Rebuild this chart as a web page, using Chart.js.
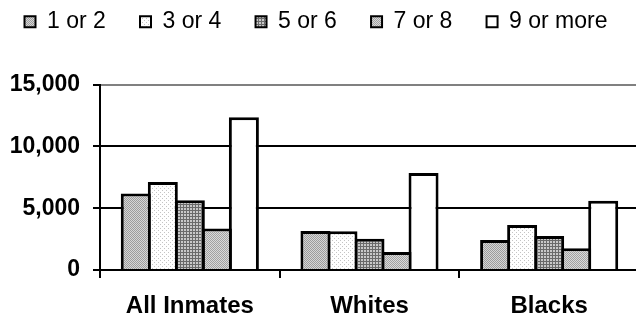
<!DOCTYPE html>
<html>
<head>
<meta charset="utf-8">
<script src="https://cdn.jsdelivr.net/npm/chart.js@4.4.0/dist/chart.umd.min.js"></script>
<style>
  html, body { margin: 0; padding: 0; background: #fff; overflow: hidden; }
  #wrap { width: 640px; height: 321px; }
</style>
</head>
<body>
<div id="wrap"><canvas id="chart" width="640" height="321"></canvas></div>
<script>
// data
const groups = ['All Inmates', 'Whites', 'Blacks'];
const seriesNames = ['1 or 2', '3 or 4', '5 or 6', '7 or 8', '9 or more'];
const oneOrTwo = [6180, 3150, 2420];
const threeOrFour = [7120, 3140, 3630];
const fiveOrSix = [5650, 2530, 2740];
const sevenOrEight = [3360, 1450, 1750];
const nineOrMore = [12360, 7850, 5590];
const yTicks = [0, 5000, 10000, 15000];

// small fill patterns like the old office hatches
function makePattern(size, draw) {
    const c = document.createElement('canvas');
    c.width = size;
    c.height = size;
    const g = c.getContext('2d');
    draw(g);
    return g.createPattern(c, 'repeat');
}
const ctx = document.getElementById('chart').getContext('2d');

const pat1 = makePattern(2, g => {
    g.fillStyle = '#d6d6d6'; g.fillRect(0, 0, 2, 2);
    g.fillStyle = '#9c9c9c'; g.fillRect(0, 0, 1, 1); g.fillRect(1, 1, 1, 1);
});
const pat2 = makePattern(4, g => {
    g.fillStyle = '#ffffff'; g.fillRect(0, 0, 4, 4);
    g.fillStyle = '#c4c4c4'; g.fillRect(0, 0, 1, 1); g.fillRect(2, 2, 1, 1);
});
const pat3 = makePattern(3, g => {
    g.fillStyle = '#c8c8c8'; g.fillRect(0, 0, 3, 3);
    g.fillStyle = '#6a6a6a'; g.fillRect(0, 0, 3, 1); g.fillRect(0, 0, 1, 3);
});
const pat4 = makePattern(4, g => {
    g.fillStyle = '#dadada'; g.fillRect(0, 0, 4, 4);
    g.fillStyle = '#a2a2a2';
    for (let i = 0; i < 4; i++) { g.fillRect(i, i, 1, 1); g.fillRect((i + 2) % 4, i, 1, 1); }
});

const fills = [pat1, pat2, pat3, pat4, '#ffffff'];
const values = [oneOrTwo, threeOrFour, fiveOrSix, sevenOrEight, nineOrMore];

// legend needs wide horizontal gaps on one row but sits close to the top edge
const legendPlace = {
    id: 'legendPlace',
    beforeInit(chart) {
        const fit = chart.legend.fit;
        chart.legend.fit = function () {
            this.maxWidth += 60;
            fit.call(this);
            this.maxWidth -= 60;
            this.width = this.maxWidth;
            this.height = 84.5;
        };
    },
    afterLayout(chart) {
        const lg = chart.legend;
        lg.top -= 24; lg.bottom -= 24;
        lg.left = -18; lg.right = 650;
    }
};

const font = 'Liberation Sans, Arial, sans-serif';

new Chart(ctx, {
    type: 'bar',
    data: {
        labels: groups,
        datasets: seriesNames.map((name, i) => ({
            label: name,
            data: values[i],
            backgroundColor: fills[i],
            borderColor: '#000',
            borderWidth: 3,
            categoryPercentage: 0.752,
            barPercentage: 1.111
        }))
    },
    options: {
        responsive: false,
        animation: false,
        layout: { padding: { left: 0, right: 1, top: 0, bottom: 0 } },
        plugins: {
            tooltip: { enabled: false },
            legend: {
                position: 'top',
                labels: {
                    boxWidth: 11,
                    boxHeight: 11,
                    padding: 34.2,
                    color: '#000',
                    font: { family: font, size: 23 },
                    generateLabels(chart) {
                        const items = Chart.defaults.plugins.legend.labels.generateLabels(chart);
                        items.forEach(it => { it.lineWidth = 2; });
                        return items;
                    }
                }
            }
        },
        scales: {
            x: {
                afterFit: axis => { axis.height = 51; },
                grid: { offset: true, drawOnChartArea: false, color: '#000', lineWidth: 2, tickLength: 8 },
                border: { color: '#000', width: 2 },
                ticks: {
                    color: '#000',
                    padding: 14,
                    maxRotation: 0,
                    font: { family: font, size: 24, weight: 'bold' }
                }
            },
            y: {
                min: 0,
                max: 15000,
                afterFit: axis => { axis.width = 100; },
                afterBuildTicks: axis => { axis.ticks = yTicks.map(v => ({ value: v })); },
                grid: {
                    color: c => (c.tick && c.tick.value === 15000 ? '#808080' : '#000'),
                    tickColor: '#000',
                    lineWidth: 2,
                    tickLength: 7
                },
                border: { color: '#000', width: 2 },
                ticks: {
                    color: '#000',
                    padding: 13,
                    callback: v => v.toLocaleString('en-US'),
                    font: { family: font, size: 23, weight: 'bold' }
                }
            }
        }
    },
    plugins: [legendPlace]
});
</script>
</body>
</html>
